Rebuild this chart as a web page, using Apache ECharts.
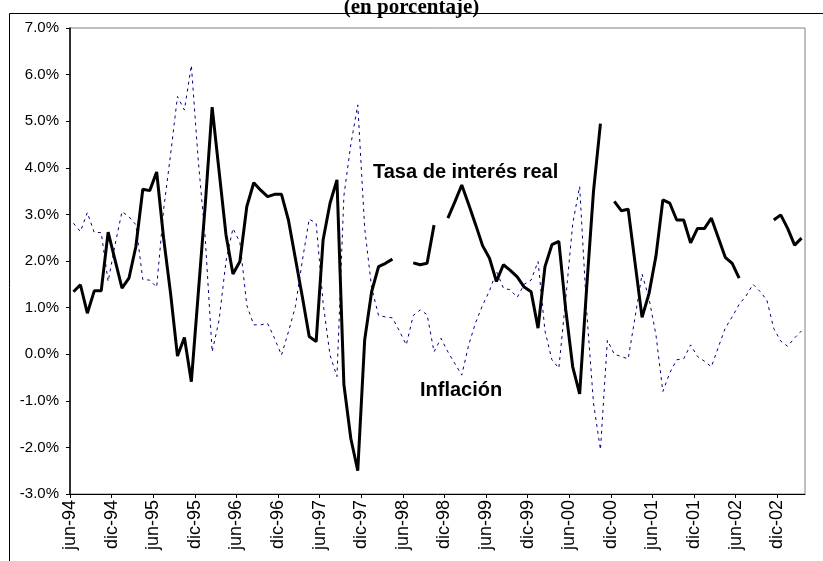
<!DOCTYPE html>
<html>
<head>
<meta charset="utf-8">
<script src="https://cdn.jsdelivr.net/npm/echarts@6/dist/echarts.min.js"></script>
<style>
  html, body { margin: 0; padding: 0; background: #fff; }
  #chart { width: 823px; height: 561px; }
</style>
</head>
<body>
<div id="chart"></div>
<script>
// etiquetas del eje x (cada 6 meses, desde jun-94)
var tickLabels = ['jun-94','dic-94','jun-95','dic-95','jun-96','dic-96','jun-97','dic-97','jun-98',
                  'dic-98','jun-99','dic-99','jun-00','dic-00','jun-01','dic-01','jun-02','dic-02'];
var nMonths = 106; // jun-94 .. mar-03

// Tasa de interés real (mensual, %), null = sin dato
var tasaReal = [
  1.34, 1.49, 0.88, 1.36, 1.36, 2.62, 2.02, 1.42, 1.63, 2.31, 3.54, 3.51,
  3.91, 2.49, 1.31, -0.04, 0.36, -0.59, 1.31, 3.20, 5.30, 3.93, 2.56, 1.72,
  1.99, 3.17, 3.68, 3.52, 3.38, 3.43, 3.43, 2.88, 2.06, 1.24, 0.38, 0.27,
  2.45, 3.24, 3.74, -0.65, -1.81, -2.50, 0.31, 1.34, 1.88, 1.95, 2.04, null,
  null, 1.96, 1.92, 1.95, 2.77, null, 2.92, 3.27, 3.63, 3.21, 2.78, 2.33,
  2.06, 1.56, 1.92, 1.80, 1.66, 1.44, 1.34, 0.56, 1.88, 2.35, 2.42, 0.95,
  -0.27, -0.85, 1.40, 3.50, 4.95, null, 3.28, 3.08, 3.11, 1.95, 0.79, 1.30,
  2.10, 3.31, 3.24, 2.88, 2.88, 2.39, 2.70, 2.70, 2.92, 2.50, 2.08, 1.95,
  1.63, null, null, null, null, 2.88, 2.99, 2.70, 2.34, 2.49
];

// Inflación (mensual, %)
var inflacion = [
  2.81, 2.63, 3.04, 2.61, 2.61, 1.56, 2.35, 3.06, 2.95, 2.78, 1.60, 1.59,
  1.44, 3.10, 4.28, 5.53, 5.24, 6.20, 4.15, 2.50, 0.05, 0.73, 2.00, 2.70,
  2.40, 1.05, 0.63, 0.63, 0.66, 0.34, -0.02, 0.48, 1.02, 2.00, 2.90, 2.81,
  1.10, -0.02, -0.48, 3.40, 4.50, 5.35, 2.70, 1.43, 0.83, 0.80, 0.78, 0.50,
  0.20, 0.83, 0.95, 0.85, 0.05, 0.34, 0.05, -0.20, -0.45, 0.20, 0.68, 1.05,
  1.36, 1.78, 1.42, 1.38, 1.22, 1.50, 1.59, 1.99, 0.50, -0.12, -0.30, 1.20,
  2.80, 3.60, 0.95, -1.05, -2.05, 0.30, 0.00, -0.05, -0.10, 0.80, 1.72, 1.20,
  0.42, -0.80, -0.40, -0.12, -0.10, 0.20, -0.05, -0.15, -0.27, 0.15, 0.56, 0.80,
  1.07, 1.25, 1.50, 1.35, 1.16, 0.55, 0.28, 0.17, 0.35, 0.50
];

// cada mes se dibuja en el centro de su intervalo
function toPoints(arr) {
  return arr.map(function (v, i) { return [i + 0.5, v === null ? '-' : v]; });
}

var myChart = echarts.init(document.getElementById('chart'));

var option = {
  animation: false,
  backgroundColor: '#fff',
  title: {
    text: '(en porcentaje)',
    left: 'center',
    top: -8,
    textStyle: { fontFamily: 'Liberation Serif', fontWeight: 'bold', fontSize: 21, color: '#000' }
  },
  grid: {
    left: 70, right: 18, top: 28, bottom: 67,
    show: true, borderColor: '#808080', borderWidth: 1
  },
  xAxis: {
    type: 'value',
    min: 0, max: nMonths, interval: 6,
    splitLine: { show: false },
    axisLine: { onZero: false, lineStyle: { color: '#000', width: 1 } },
    axisTick: { length: 4, lineStyle: { color: '#000' } },
    axisLabel: {
      rotate: 90, margin: 6,
      fontFamily: 'Liberation Sans', fontSize: 18, color: '#000',
      showMaxLabel: false,
      formatter: function (v) {
        return (v % 6 === 0 && tickLabels[v / 6]) ? tickLabels[v / 6] : '';
      }
    }
  },
  yAxis: {
    type: 'value',
    min: -3, max: 7, interval: 1,
    splitLine: { show: false },
    axisLine: { show: true, onZero: false, lineStyle: { color: '#000', width: 1.5 } },
    axisTick: { show: true, length: 4, lineStyle: { color: '#000' } },
    axisLabel: {
      margin: 11,
      fontFamily: 'Liberation Sans', fontSize: 15, color: '#000',
      formatter: function (v) { return v.toFixed(1) + '%'; }
    }
  },
  series: [
    {
      name: 'Inflación',
      type: 'line',
      data: toPoints(inflacion),
      symbol: 'none',
      lineStyle: { color: '#000080', width: 1, type: [3, 4] }
    },
    {
      name: 'Tasa de interés real',
      type: 'line',
      data: toPoints(tasaReal),
      symbol: 'none',
      connectNulls: false,
      lineStyle: { color: '#000', width: 3 }
    }
  ],
  graphic: [
    { type: 'line', silent: true, shape: { x1: 9.5, y1: 13.5, x2: 823, y2: 13.5 }, style: { stroke: '#000', lineWidth: 1 } },
    { type: 'line', silent: true, shape: { x1: 9.5, y1: 13.5, x2: 9.5, y2: 561 }, style: { stroke: '#000', lineWidth: 1 } },
    { type: 'text', left: 373, top: 162,
      style: { text: 'Tasa de interés real', font: 'bold 20px "Liberation Sans"', fill: '#000' } },
    { type: 'text', left: 420, top: 380,
      style: { text: 'Inflación', font: 'bold 20px "Liberation Sans"', fill: '#000' } }
  ]
};

myChart.setOption(option);
</script>
</body>
</html>
